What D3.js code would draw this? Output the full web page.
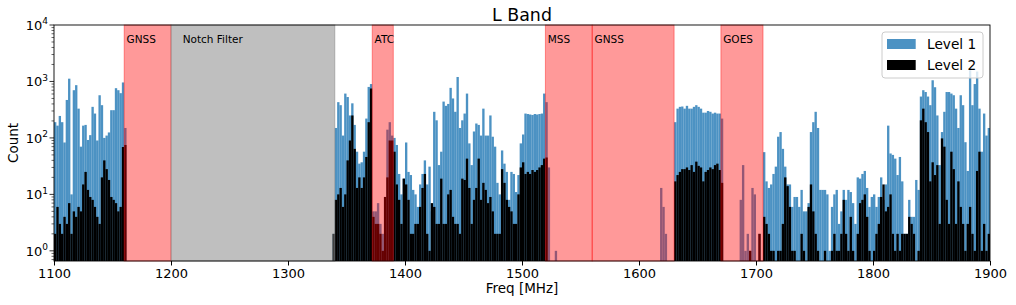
<!DOCTYPE html>
<html>
<head>
<meta charset="utf-8">
<script src="https://cdn.jsdelivr.net/npm/d3@7"></script>
<style>
body { margin: 0; background: #fff; }
text { font-family: "DejaVu Sans", sans-serif; fill: #000; }
</style>
</head>
<body>
<div id="chart"></div>
<script>
// histogram bins: 2 MHz wide, starting at 1100 MHz
var binStart = 1100;
var binWidth = 2;

// Level 1 counts, one row per 40 MHz
var level1 = [
    190,165,245,190,83,470,1120,10,700,860,330,70,165,170,92,112,355,270,90,570,   // 1100
    380,100,110,125,310,310,760,700,620,960,150,0,0,0,0,0,0,0,0,0,                 // 1140
    0,0,0,0,0,0,0,0,0,0,0,0,0,0,0,0,0,0,0,0,                                       // 1180
    0,0,0,0,0,0,0,0,0,0,0,0,0,0,0,0,0,0,0,0,                                       // 1220
    0,0,0,0,0,0,0,0,0,0,0,0,0,0,0,0,0,0,0,0,                                       // 1260
    0,0,0,0,0,0,0,0,0,0,0,0,0,0,0,0,0,0,0,2,                                       // 1300
    150,430,380,110,610,530,250,410,170,57,35,37,57,220,800,900,5,5,7,3,           // 1340
    2,9,140,190,110,100,75,23,10,19,83,25,22,12,10,6,15,23,40,15,                  // 1380
    31,5,290,205,33,57,440,370,400,770,500,290,1200,150,205,270,610,80,33,130,     // 1420
    180,170,110,330,110,110,250,105,70,16,10,60,35,25,8,25,23,11,22,80,            // 1460
    115,270,265,260,255,265,260,265,270,610,430,30,0,0,1,0,0,0,0,0,                // 1500
    0,0,0,0,0,0,0,0,0,0,0,0,0,0,0,0,0,0,0,0,                                       // 1540
    0,0,0,0,0,0,0,0,0,0,0,0,0,0,0,0,0,0,0,13,                                      // 1580
    6,2,0,0,0,190,330,355,360,330,370,330,330,355,380,355,330,280,280,300,         // 1620
    290,270,280,270,270,220,0,0,0,0,0,0,0,8,33,1,2,1,13,10,                        // 1660
    0,2,0,56,17,13,15,23,31,105,127,64,31,15,15,6,9,9,6,12,                        // 1700
    5,5,7,127,190,290,150,12,12,12,10,1,6,10,12,3,5,12,8,12,                       // 1740
    11,7,3,20,19,23,26,13,6,9,10,6,9,20,8,15,165,53,50,43,                         // 1780
    22,46,17,2,2,8,4,4,18,12,540,700,650,540,380,1050,790,250,33,127,              // 1820
    290,650,650,610,570,330,150,570,380,84,26,1580,380,900,1500,330,57,270,110,150 // 1860
];

// Level 2 counts
var level2 = [
    2,6,3,2,4,3,7,2,5,4,6,5,15,25,12,9,8,6,4,3,
    20,40,28,18,9,8,7,5,6,69,75,0,0,0,0,0,0,0,0,0,
    0,0,0,0,0,0,0,0,0,0,0,0,0,0,0,0,0,0,0,0,
    0,0,0,0,0,0,0,0,0,0,0,0,0,0,0,0,0,0,0,0,
    0,0,0,0,0,0,0,0,0,0,0,0,0,0,0,0,0,0,0,0,
    0,0,0,0,0,0,0,0,0,0,0,0,0,0,0,0,0,0,0,2,
    8,10,13,6,10,40,90,250,64,13,20,13,20,46,190,750,4,3,3,2,
    1,9,20,90,90,57,15,8,3,19,15,8,2,2,3,3,6,13,23,2,
    1,7,6,3,3,19,3,3,10,12,4,3,3,2,19,18,43,13,3,8,
    13,43,8,16,12,7,9,5,2,2,2,28,16,8,6,5,3,3,10,30,
    37,23,25,23,27,25,27,30,33,43,45,0,0,0,0,0,0,0,0,0,
    0,0,0,0,0,0,0,0,0,0,0,0,0,0,0,0,0,0,0,0,
    0,0,0,0,0,0,0,0,0,0,0,0,0,0,0,0,0,0,0,0,
    0,0,0,0,0,17,22,25,28,28,30,27,33,25,38,32,30,17,25,27,
    30,28,33,35,27,16,0,0,0,0,0,0,0,0,0,0,0,1,0,0,
    0,2,0,4,3,2,1,1,0,1,1,3,20,14,6,1,1,0,0,2,
    1,0,6,15,5,2,1,0,0,1,0,0,1,2,1,1,2,8,2,1,
    4,1,0,2,7,8,10,4,1,0,1,2,3,9,15,5,6,10,2,1,
    2,1,2,2,2,4,3,2,0,1,205,330,190,127,17,37,22,33,3,98,
    70,8,3,57,28,3,17,6,3,1,3,6,2,1,26,57,1,3,1,2
];

// protected bands (red) and the notch filter (gray)
var bandNames = ["GNSS", "ATC", "MSS", "GNSS", "GOES"];
var bandStarts = [1160, 1372, 1520, 1560, 1670];
var bandEnds = [1200, 1390, 1560, 1630, 1706];
var notchName = "Notch Filter";
var notchRange = [1200, 1340];

var xTicks = [1100, 1200, 1300, 1400, 1500, 1600, 1700, 1800, 1900];
var yTicks = [1, 10, 100, 1000, 10000];
var legendNames = ["Level 1", "Level 2"];

var width = 1016, height = 305;
var margin = {top: 25, right: 26, bottom: 44, left: 54};

var svg = d3.select("#chart").append("svg")
    .attr("width", width)
    .attr("height", height);

var x = d3.scaleLinear()
    .domain([1100, 1900])
    .range([margin.left, width - margin.right]);

var y = d3.scaleLog()
    .domain([Math.pow(10, -0.18), 10000])
    .range([height - margin.bottom, margin.top]);

var bottom = y.range()[0];

function bins(counts) {
    return counts.map(function (c, i) {
        return {f0: binStart + i * binWidth, f1: binStart + (i + 1) * binWidth, count: c};
    }).filter(function (d) { return d.count > 0; });
}

function drawBars(counts, color, opacity) {
    svg.append("g").selectAll("rect")
        .data(bins(counts))
        .enter().append("rect")
        .attr("x", function (d) { return x(d.f0); })
        .attr("width", function (d) { return x(d.f1) - x(d.f0); })
        .attr("y", function (d) { return y(d.count); })
        .attr("height", function (d) { return bottom - y(d.count); })
        .attr("fill", color)
        .attr("fill-opacity", opacity);
}

drawBars(level1, "#1f77b4", 0.8);
drawBars(level2, "#000000", 1);

// spans on top of the bars
var bands = bandNames.map(function (n, i) {
    return {name: n, start: bandStarts[i], end: bandEnds[i]};
});

svg.append("g").selectAll("rect")
    .data(bands)
    .enter().append("rect")
    .attr("x", function (d) { return x(d.start); })
    .attr("width", function (d) { return x(d.end) - x(d.start); })
    .attr("y", margin.top)
    .attr("height", bottom - margin.top)
    .attr("fill", "red")
    .attr("fill-opacity", 0.4)
    .attr("stroke", "red")
    .attr("stroke-opacity", 0.4)
    .attr("stroke-width", 1);

svg.append("rect")
    .attr("x", x(notchRange[0]))
    .attr("width", x(notchRange[1]) - x(notchRange[0]))
    .attr("y", margin.top)
    .attr("height", bottom - margin.top)
    .attr("fill", "gray")
    .attr("fill-opacity", 0.5)
    .attr("stroke", "gray")
    .attr("stroke-opacity", 0.5)
    .attr("stroke-width", 1);

svg.append("g").selectAll("text")
    .data(bands)
    .enter().append("text")
    .attr("x", function (d) { return x(d.start + 2); })
    .attr("y", 42.7)
    .style("font-size", "10.5px")
    .text(function (d) { return d.name; });

svg.append("text")
    .attr("x", x(notchRange[0] + 10))
    .attr("y", 42.7)
    .style("font-size", "10.5px")
    .text(notchName);

// axes
var xAxis = svg.append("g")
    .attr("transform", "translate(0," + bottom + ")")
    .call(d3.axisBottom(x).tickValues(xTicks).tickSize(4.5).tickPadding(3).tickFormat(d3.format("d")));
xAxis.select(".domain").remove();
xAxis.selectAll("text").style("font-size", "13px").attr("fill", "#000");

var minor = y.ticks().filter(function (t) { return yTicks.indexOf(t) < 0; });
svg.append("g").selectAll("line")
    .data(minor)
    .enter().append("line")
    .attr("x1", margin.left - 2.5)
    .attr("x2", margin.left)
    .attr("y1", function (d) { return y(d); })
    .attr("y2", function (d) { return y(d); })
    .attr("stroke", "#000")
    .attr("stroke-width", 0.6);

var yg = svg.append("g");
yg.selectAll("line")
    .data(yTicks)
    .enter().append("line")
    .attr("x1", margin.left - 4.5)
    .attr("x2", margin.left)
    .attr("y1", function (d) { return y(d); })
    .attr("y2", function (d) { return y(d); })
    .attr("stroke", "#000")
    .attr("stroke-width", 0.8);

var ylab = yg.selectAll("text")
    .data(yTicks)
    .enter().append("text")
    .attr("x", margin.left - 6)
    .attr("y", function (d) { return y(d) + 4.7; })
    .attr("text-anchor", "end")
    .style("font-size", "13px");
ylab.append("tspan").text("10");
ylab.append("tspan")
    .attr("dy", -5.5)
    .style("font-size", "9px")
    .text(function (d) { return Math.round(Math.log10(d)); });

// frame
svg.append("rect")
    .attr("x", margin.left)
    .attr("y", margin.top)
    .attr("width", x.range()[1] - margin.left)
    .attr("height", bottom - margin.top)
    .attr("fill", "none")
    .attr("stroke", "#000")
    .attr("stroke-width", 0.9);

// labels
svg.append("text")
    .attr("x", (margin.left + x.range()[1]) / 2)
    .attr("y", 21)
    .attr("text-anchor", "middle")
    .style("font-size", "17.4px")
    .text("L Band");

svg.append("text")
    .attr("x", (margin.left + x.range()[1]) / 2)
    .attr("y", 292.5)
    .attr("text-anchor", "middle")
    .style("font-size", "13.5px")
    .text("Freq [MHz]");

svg.append("text")
    .attr("transform", "translate(18," + ((margin.top + bottom) / 2) + ") rotate(-90)")
    .attr("text-anchor", "middle")
    .style("font-size", "13.5px")
    .text("Count");

// legend
var legend = svg.append("g").attr("transform", "translate(882,32)");
legend.append("rect")
    .attr("width", 101)
    .attr("height", 46)
    .attr("rx", 3)
    .attr("fill", "#fff")
    .attr("fill-opacity", 0.8)
    .attr("stroke", "#ccc")
    .attr("stroke-width", 1);

var legendColors = [{c: "#1f77b4", o: 0.8}, {c: "#000", o: 1}];
legendNames.forEach(function (n, i) {
    legend.append("rect")
        .attr("x", 5)
        .attr("y", 7 + i * 21)
        .attr("width", 28.7)
        .attr("height", 10)
        .attr("fill", legendColors[i].c)
        .attr("fill-opacity", legendColors[i].o);
    legend.append("text")
        .attr("x", 45)
        .attr("y", 17.3 + i * 21)
        .style("font-size", "13.7px")
        .text(n);
});
</script>
</body>
</html>
